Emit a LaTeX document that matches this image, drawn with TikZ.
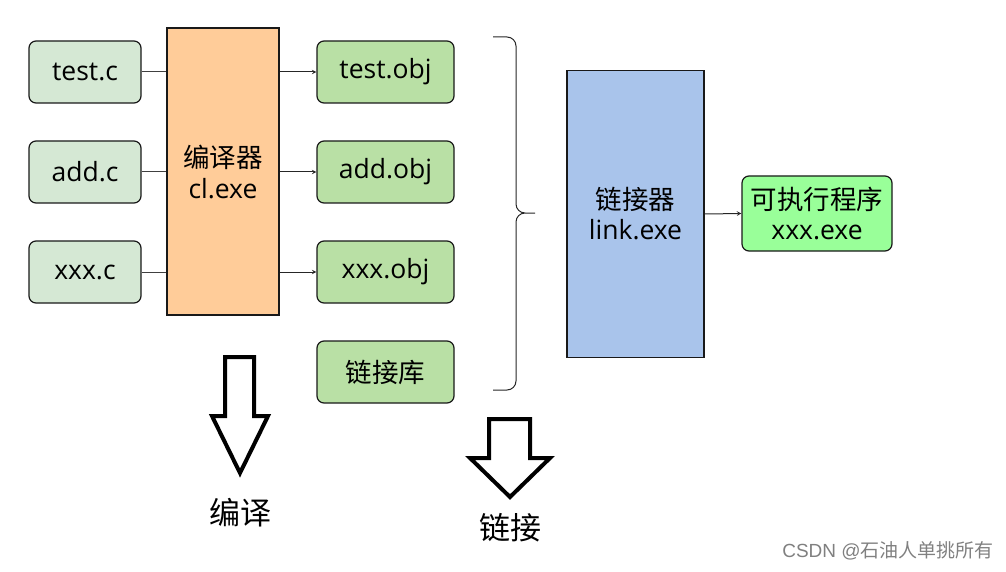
\documentclass[tikz,border=0pt]{standalone}
\usepackage{fontspec}
\setmainfont{Open Sans}
\newfontfamily\cjk{Noto Sans CJK SC}
\newfontfamily\markfont{Liberation Sans}
\usepackage{xcolor}
\usetikzlibrary{arrows,calc}
\definecolor{srcgreen}{HTML}{D5E8D4}
\definecolor{objgreen}{HTML}{B9E0A5}
\definecolor{clorange}{HTML}{FFCC99}
\definecolor{linkblue}{HTML}{A9C4EB}
\definecolor{exegreen}{HTML}{99FF99}
\tikzset{
	sketch/.style={
			draw=black!90, line width=1.2pt, rounded corners=7pt,
			font=\fontsize{26.5}{31}\selectfont, align=center, inner sep=0pt
		},
	filebox/.style={sketch, minimum width=112pt, minimum height=62pt, fill=#1},
	toolbox/.style={sketch, rounded corners=0pt, minimum width=#1, minimum height=287pt}
}

\begin{document}
\begin{tikzpicture}[x=1pt, y=-1pt]
    \useasboundingbox (0,0) rectangle (1006,572);

    % source files
    \node[filebox=srcgreen] (testc) at (85,72) {test.c};
    \node[filebox=srcgreen] (addc) at (85,172) {add.c};
    \node[filebox=srcgreen] (xxxc) at (85,272) {xxx.c};

    % compiler
    \node[toolbox=112pt, fill=clorange] (cl) at (223,171.5) {{\cjk 编译器}\\cl.exe};

    % object files
    \node[filebox=objgreen, minimum width=137pt] (testobj) at (385.5,72) {test.obj};
    \node[filebox=objgreen, minimum width=137pt] (addobj) at (385.5,172) {add.obj};
    \node[filebox=objgreen, minimum width=137pt] (xxxobj) at (385.5,272) {xxx.obj};
    \node[filebox=objgreen, minimum width=137pt] (lib) at (385.5,372) {\cjk 链接库};

    % linker
    \node[toolbox=137pt, fill=linkblue, font=\fontsize{26.5}{30}\selectfont] (link) at (635.5,214) {{\cjk 链接器}\\link.exe};
    \node[sketch, fill=exegreen, minimum width=150pt, minimum height=75pt, font=\fontsize{26.5}{30}\selectfont] (exe) at (817,213.5) {{\cjk 可执行程序}\\xxx.exe};

    % connectors
    \foreach \src in {testc,addc,xxxc}
      \draw[black!75, line width=1pt] (\src.east) -- (\src -| cl.west);
    \foreach \obj in {testobj,addobj,xxxobj}
      \draw[black!85, line width=1pt, -stealth] (\obj -| cl.east) -- (\obj.west);
    \draw[black!85, line width=1pt, -stealth] (link.east) -- (exe.west);

    % brace
    \coordinate (bracetop) at (493,37);
    \coordinate (bracetip) at (535,213);
    \coordinate (bracebot) at (493,390);
    \draw[black!85, line width=1pt, rounded corners=9pt]
      (bracetop) -- (516,37) -- (516,213) -- (bracetip)
      (bracetip) -- (516,213) -- (516,390) -- (bracebot);

    % hollow arrows
    \draw[line width=4pt, line join=miter]
      (225,357) -- (254,357) -- (254,416) -- (268,416) -- (240,473)
      -- (212,416) -- (225,416) -- cycle;
    \draw[line width=4pt, line join=miter]
      (489,419) -- (530,419) -- (530,458) -- (550,458) -- (510,497)
      -- (470,458) -- (489,458) -- cycle;
    \node[font=\cjk\fontsize{31}{31}\selectfont] (compilelbl) at (240,513) {编译};
    \node[font=\cjk\fontsize{31}{31}\selectfont] (linklbl) at (510,528) {链接};

    % watermark
    \node[text=black!50, font=\fontsize{19}{19}\selectfont] (mark) at (888,551) {{\markfont CSDN @}{\cjk 石油人单挑所有}};
\end{tikzpicture}
\end{document}
